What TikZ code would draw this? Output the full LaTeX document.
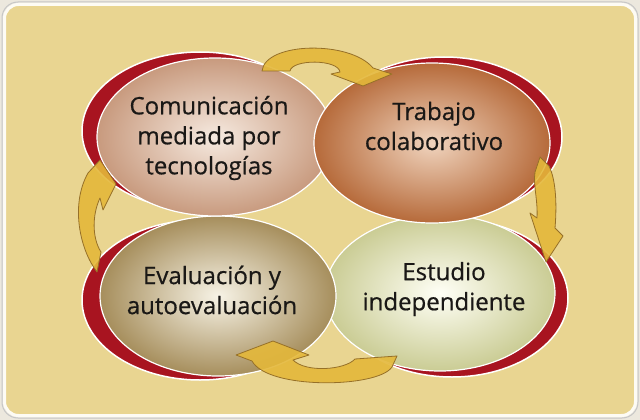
\documentclass[tikz,border=0pt]{standalone}
\usepackage{fontspec}
\setmainfont{Open Sans}
\newfontfamily\lblfont[FakeBold=0.6]{Open Sans}
\usetikzlibrary{shapes.geometric}
\definecolor{bgc}{RGB}{233,213,145}
\definecolor{outc}{RGB}{236,232,222}
\definecolor{redc}{RGB}{168,20,32}
\definecolor{goldc}{RGB}{228,184,58}
\definecolor{goldd}{RGB}{150,112,40}
\definecolor{comin}{RGB}{246,234,224}
\definecolor{comout}{RGB}{200,154,126}
\definecolor{train}{RGB}{240,212,190}
\definecolor{traout}{RGB}{182,106,58}
\definecolor{evain}{RGB}{247,243,230}
\definecolor{evaout}{RGB}{166,142,92}
\definecolor{estin}{RGB}{255,255,246}
\definecolor{estout}{RGB}{202,204,148}
\definecolor{txt}{RGB}{26,24,22}
\begin{document}
\begin{tikzpicture}[x=1pt,y=-1pt,
  redell/.style={ellipse, fill=redc, draw=white, line width=1.5pt, inner sep=0pt},
  bubble/.style={ellipse, draw=white, line width=1.2pt, inner sep=0pt, shading=radial},
  lbl/.style={align=center, text=txt, font=\lblfont\fontsize{24}{30}\selectfont},
  arrowshape/.style={fill=goldc, fill opacity=0.9, draw=goldd, line width=0.8pt, line join=round}]
\useasboundingbox (0,0) rectangle (640,420);
\fill[outc] (0,0) rectangle (640,420);
\draw[gray!45, line width=1pt, rounded corners=16pt] (2,2) rectangle (638,418);
\draw[fill=bgc, draw=white!90!bgc, line width=3pt, rounded corners=14pt] (4.5,4.5) rectangle (635.5,415.5);

% Estudio independiente
\node[redell, minimum width=232pt, minimum height=158pt] (estR) at (452,298) {};
\node[bubble, inner color=estin, outer color=estout, minimum width=230pt, minimum height=156pt] (est) at (440,293) {};
% Evaluacion
\node[redell, minimum width=236pt, minimum height=160pt] (evaR) at (200,300) {};
\node[bubble, inner color=evain, outer color=evaout, minimum width=236pt, minimum height=160pt] (eva) at (218,296) {};
% Comunicacion
\node[redell, minimum width=236pt, minimum height=158pt] (comR) at (200,131) {};
\node[bubble, inner color=comin, outer color=comout, minimum width=236pt, minimum height=158pt] (com) at (215,137) {};
% Trabajo
\node[redell, minimum width=236pt, minimum height=160pt] (traR) at (444,137) {};
\node[bubble, inner color=train, outer color=traout, minimum width=236pt, minimum height=160pt] (tra) at (432,143) {};

\node[lbl] (comT) at (209,138) {Comunicación\\mediada por\\tecnologías};
\node[lbl] (traT) at (434,126) {Trabajo\\colaborativo};
\node[lbl] (estT) at (444,289) {Estudio\\independiente};
\node[lbl] (evaT) at (212,290) {Evaluación y\\autoevaluación};

% cycle arrows
\path[arrowshape] (262,71) .. controls (265,42) and (350,40) .. (373,68) -- (392,74) -- (363,86) -- (331,74) -- (340,72) .. controls (338,59) and (292,59) .. (290,71) -- cycle;
\path[arrowshape] (540,157) -- (549,166) .. controls (556,180) and (557,205) .. (555,228) -- (563,236) -- (546,262) -- (530,213) -- (537,218) .. controls (538,200) and (533,185) .. (535,172) -- cycle;
\path[arrowshape] (392,367) .. controls (378,388) and (268,390) .. (252,361) -- (236,355) -- (273,341) -- (309,355) -- (293,360) .. controls (306,373) and (345,370) .. (355,359) -- (397,356) -- cycle;
\path[arrowshape] (97,272) .. controls (80,250) and (70,205) .. (88,173) -- (100,160) -- (116,184) -- (103,210) -- (100,198) .. controls (92,215) and (92,238) .. (101,252) -- cycle;
\end{tikzpicture}
\end{document}
